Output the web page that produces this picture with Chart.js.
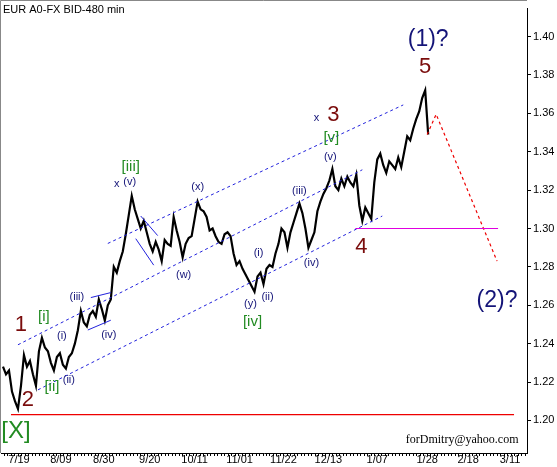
<!DOCTYPE html>
<html><head><meta charset="utf-8">
<script src="https://cdn.jsdelivr.net/npm/chart.js@4"></script>
<style>html,body{margin:0;padding:0;background:#fff}#w{width:557px;height:467px}</style>
</head><body><div id="w"><canvas id="c"></canvas></div>
<script>
// bar index -> x unit: first bar at 2, step 3
const barStart = 2, barStep = 3;
const closes = [1.228,1.224,1.226,1.215,1.210,1.206,1.218,1.234,1.228,1.231,1.224,1.218,1.236,1.243,1.238,1.236,1.230,1.226,1.233,1.235,1.229,1.227,1.233,1.235,1.240,1.247,1.257,1.251,1.249,1.255,1.257,1.254,1.263,1.258,1.252,1.260,1.263,1.280,1.277,1.283,1.288,1.297,1.307,1.317,1.310,1.305,1.300,1.304,1.298,1.292,1.288,1.293,1.289,1.283,1.294,1.292,1.291,1.306,1.299,1.293,1.285,1.292,1.295,1.296,1.305,1.314,1.310,1.309,1.306,1.299,1.300,1.296,1.293,1.292,1.297,1.298,1.296,1.287,1.281,1.283,1.279,1.276,1.273,1.270,1.267,1.275,1.277,1.271,1.279,1.281,1.280,1.287,1.292,1.300,1.298,1.290,1.298,1.303,1.308,1.313,1.308,1.300,1.290,1.294,1.298,1.309,1.314,1.318,1.321,1.325,1.331,1.322,1.320,1.326,1.322,1.327,1.324,1.322,1.328,1.312,1.304,1.311,1.308,1.305,1.324,1.336,1.339,1.333,1.329,1.335,1.333,1.331,1.337,1.332,1.340,1.348,1.346,1.352,1.357,1.361,1.368,1.372,1.349];
const tickPos = [18,60,103,149,194,239,283,328,377,427,468,510];
const tickLabels = ['7/19','8/09','8/30','9/20','10/11','11/01','11/22','12/13','1/07','1/28','2/18','3/11'];
const yTicks = [1.20,1.22,1.24,1.26,1.28,1.30,1.32,1.34,1.36,1.38,1.40];
const xMin = 0, xMax = 527, yMin = 1.1830, yMax = 1.4146;
// channel lines [x1,y1,x2,y2]
const channelLines = [[17,1.2394,362,1.3306],[37,1.2159,382,1.3065],[107,1.2922,403,1.3644]];
const smallLines = [[90,1.2640,110,1.2666],[87,1.2471,110,1.2522],[140,1.3065,157,1.2963],[135,1.2947,153,1.2809]];
const supportLine = [355,1.300,498,1.300];
const baseLine = [10,1.203,514,1.203];
const projX = [427,436,497], projY = [1.349,1.3595,1.283];
// labels: text, x, price, kind
const lblText = ['(1)?','5','x','3','[v]','(v)','(iii)','(iv)','4','(2)?','1','[i]','(i)','[ii]','(ii)','2','[X]','(iii)','(iv)','[iii]','x','(v)','(w)','(x)','(i)','(ii)','(y)','[iv]'];
const lblX = [428,425,316,333,331,330,299,311,361,497,20,43,61,51,68,27,15,76,108,130,116,129,183,197,258,267,250,252];
const lblY = [1.3982,1.3844,1.3577,1.3593,1.3470,1.3372,1.3193,1.2819,1.2906,1.2625,1.2497,1.2537,1.2440,1.2174,1.2210,1.2107,1.1943,1.2645,1.2445,1.3321,1.3234,1.3244,1.2758,1.3219,1.2870,1.2645,1.2609,1.2512];
const lblKind = ['bigN','bigR','sN','bigR','g','sN','sN','sN','bigR','bigN','bigR','g','sN','g','sN','bigR','bigG','sN','sN','g','sN','sN','sN','sN','sN','sN','sN','g'];

const NAVY='#141478', RED='#7a0c0c', GREEN='#228b22', BLUE='#2222dd';
const styles = {bigN:['23px',NAVY],bigR:['22px',RED],bigG:['24px',GREEN],g:['15px',GREEN],sN:['11px',NAVY]};
const seg = (a,c,w,d)=>({type:'line',data:[{x:a[0],y:a[1]},{x:a[2],y:a[3]}],borderColor:c,borderWidth:w||1,borderDash:d||[],pointRadius:0,fill:false});
const datasets = [
  ...channelLines.map(l=>seg(l,BLUE,1,[3,3])),
  ...smallLines.map(l=>seg(l,BLUE,1)),
  seg(supportLine,'#e000e0',1.2),
  seg(baseLine,'#ee0000',1.2),
  {type:'line',data:projX.map((x,i)=>({x,y:projY[i]})),borderColor:'#ee0000',borderWidth:1.2,borderDash:[3,3],pointRadius:0},
  {type:'line',data:closes.map((v,i)=>({x:barStart+barStep*i,y:v})),borderColor:'#000',borderWidth:2.2,pointRadius:0,tension:0}
];
const deco = {id:'deco',
  beforeDraw(c){const a=c.chartArea,x=c.ctx;x.save();x.fillStyle='#fff';x.fillRect(0,0,c.width,c.height);x.restore();},
  afterDraw(c){const ctx=c.ctx,a=c.chartArea,sx=c.scales.x,sy=c.scales.y;ctx.save();
    ctx.strokeStyle='#888';ctx.lineWidth=1;ctx.beginPath();ctx.moveTo(0.5,a.bottom);ctx.lineTo(0.5,0.5);ctx.lineTo(a.right,0.5);ctx.stroke();
    ctx.strokeStyle='#000';ctx.beginPath();
    for(let v=xMin+3;v<xMax;v+=3.5){const p=Math.round(sx.getPixelForValue(v))+0.5;ctx.moveTo(p,a.bottom);ctx.lineTo(p,a.bottom+3);}
    ctx.stroke();
    ctx.fillStyle='#000';ctx.font='11px "Liberation Sans", Arial';ctx.textBaseline='top';ctx.textAlign='left';
    ctx.fillText('EUR A0-FX BID-480 min',3,4);
    ctx.font='12px "Liberation Serif", serif';ctx.textAlign='center';ctx.textBaseline='middle';
    ctx.fillText('forDmitry@yahoo.com',sx.getPixelForValue(462),sy.getPixelForValue(1.1897));
    lblText.forEach((t,i)=>{const s=styles[lblKind[i]];ctx.font=s[0]+' "Liberation Sans", Arial';ctx.fillStyle=s[1];
      ctx.fillText(t,sx.getPixelForValue(lblX[i]),sy.getPixelForValue(lblY[i]));});
    ctx.restore();}};
new Chart(document.getElementById('c'),{data:{datasets},plugins:[deco],
  options:{responsive:true,maintainAspectRatio:false,animation:false,events:[],
    layout:{padding:{left:1,top:1,right:0,bottom:0}},
    plugins:{legend:{display:false},tooltip:{enabled:false}},
    scales:{
      x:{type:'linear',min:xMin,max:xMax,
        afterBuildTicks(s){s.ticks=tickPos.map(v=>({value:v}));},
        afterFit(s){s.height=14;},
        ticks:{autoSkip:false,maxRotation:0,padding:0,color:'#000',font:{size:11,family:'"Liberation Sans", Arial'},
          callback:(v)=>tickLabels[tickPos.indexOf(v)]},
        grid:{drawOnChartArea:false,drawTicks:false},border:{color:'#000'}},
      y:{position:'right',min:yMin,max:yMax,
        afterBuildTicks(s){s.ticks=yTicks.map(v=>({value:v}));},
        afterFit(s){s.width=30;},
        ticks:{autoSkip:false,padding:2,color:'#000',font:{size:11,family:'"Liberation Sans", Arial'},callback:v=>v.toFixed(2)},
        grid:{drawOnChartArea:false,tickLength:4,color:'#000'},border:{color:'#000'}}
    }}});
</script></body></html>
